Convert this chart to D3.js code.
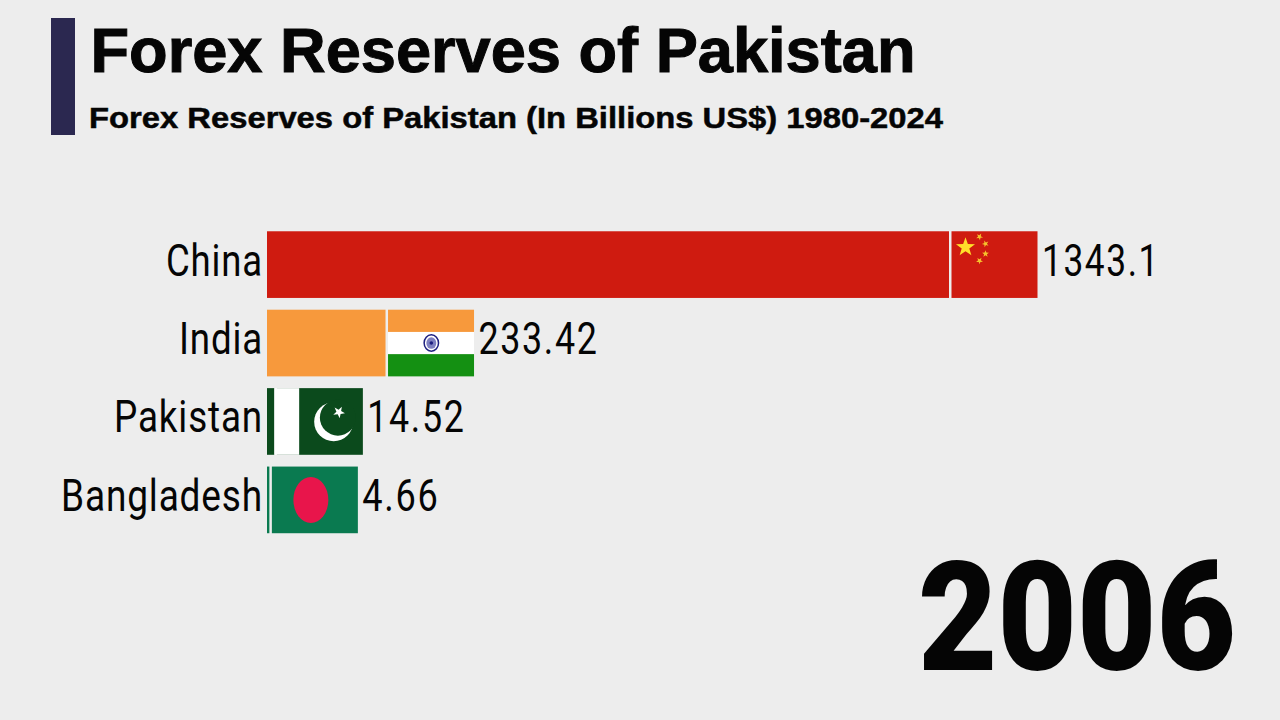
<!DOCTYPE html>
<html>
<head>
<meta charset="utf-8">
<script src="https://cdnjs.cloudflare.com/ajax/libs/d3/7.8.5/d3.min.js"></script>
<style>
html,body{margin:0;padding:0;background:#ededed;overflow:hidden}
svg{display:block}
text{fill:#050505}
</style>
</head>
<body>
<svg id="chart" width="1280" height="720"></svg>
<script>
const countries = ["China", "India", "Pakistan", "Bangladesh"];
const reserves = [1343.1, 233.42, 14.52, 4.66];
const valueLabels = ["1343.1", "233.42", "14.52", "4.66"];
const barColors = ["#cf1b10", "#f7993c", "#0b4a1c", "#0a7a50"];
const nameWidths = [97, 84, 149, 202];
const valueWidths = [118, 120, 98, 77];
const heading = "Forex Reserves of Pakistan";
const subheading = "Forex Reserves of Pakistan (In Billions US$) 1980-2024";
const yearLabel = "2006";

const svg = d3.select("#chart");
const left = 267, flagW = 86, flagGap = 2.5;

const x = d3.scaleLinear().domain([0, 1343.1]).range([0, 682]);
const y = d3.scaleBand().domain(countries).range([225, 539.5]).paddingInner(0.15).paddingOuter(0.08);

// Title block
svg.append("rect").attr("x", 51).attr("y", 18).attr("width", 24).attr("height", 117).attr("fill", "#2b2850");
svg.append("text").attr("x", 90.5).attr("y", 72)
  .attr("font-family", "Liberation Sans").attr("font-weight", 700).attr("font-size", 63)
  .attr("stroke", "#050505").attr("stroke-width", 1)
  .attr("textLength", 825).attr("lengthAdjust", "spacingAndGlyphs").text(heading);
svg.append("text").attr("x", 89).attr("y", 128)
  .attr("font-family", "Liberation Sans").attr("font-weight", 700).attr("font-size", 30)
  .attr("stroke", "#050505").attr("stroke-width", 0.5)
  .attr("textLength", 854).attr("lengthAdjust", "spacingAndGlyphs").text(subheading);

// Year counter
svg.append("text").attr("x", 918).attr("y", 670)
  .attr("font-family", "Roboto").attr("font-weight", 900).attr("font-size", 153)
  .attr("textLength", 318).attr("lengthAdjust", "spacingAndGlyphs").text(yearLabel);

const rows = svg.selectAll("g.row").data(countries).join("g").attr("class", "row")
  .attr("transform", d => `translate(0,${y(d)})`);

// Bars sized by value, with the flag attached at the end
rows.append("rect").attr("x", left).attr("y", 0)
  .attr("width", (d, i) => x(reserves[i])).attr("height", y.bandwidth())
  .attr("fill", (d, i) => barColors[i]);

const flags = rows.append("g")
  .attr("transform", (d, i) => `translate(${left + x(reserves[i]) + flagGap},0)`);

const star = (cx, cy, r, rot) => d3.range(10).map(k => {
  const a = -Math.PI / 2 + rot + k * Math.PI / 5, q = k % 2 ? r * 0.4 : r;
  return [cx + q * Math.cos(a), cy + q * Math.sin(a)].join(",");
}).join(" ");

flags.each(function (d) {
  const g = d3.select(this), h = y.bandwidth(), w = flagW;
  if (d === "China") {
    g.append("rect").attr("width", w).attr("height", h).attr("fill", "#cf1b10");
    g.append("polygon").attr("points", star(14, 16, 10, 0)).attr("fill", "#ffe02a");
    [[28, 5.5, .5], [34, 12.5, .9], [34, 22.5, 0], [28, 29.5, .6]].forEach(s =>
      g.append("polygon").attr("points", star(s[0], s[1], 3.6, s[2])).attr("fill", "#f5c32c"));
  } else if (d === "India") {
    g.append("rect").attr("width", w).attr("height", h / 3 + .5).attr("fill", "#f7993c");
    g.append("rect").attr("y", h / 3).attr("width", w).attr("height", h / 3).attr("fill", "#ffffff");
    g.append("rect").attr("y", 2 * h / 3).attr("width", w).attr("height", h / 3).attr("fill", "#149012");
    g.append("ellipse").attr("cx", 43.3).attr("cy", h / 2).attr("rx", 7.2).attr("ry", 8.2).attr("fill", "#fff")
      .attr("stroke", "#1d1f80").attr("stroke-width", 1.5);
    g.append("ellipse").attr("cx", 43.3).attr("cy", h / 2).attr("rx", 5).attr("ry", 5.8).attr("fill", "#7d7fc0");
    g.append("circle").attr("cx", 43.3).attr("cy", h / 2).attr("r", 1.8).attr("fill", "#1d1f80");
  } else if (d === "Pakistan") {
    g.append("rect").attr("width", w).attr("height", h).attr("fill", "#0b4a1c");
    g.append("rect").attr("x", -flagGap).attr("width", 22.3 + flagGap).attr("height", h).attr("fill", "#ffffff");
    g.append("circle").attr("cx", 56.8).attr("cy", 33.7).attr("r", 19.5).attr("fill", "#fff");
    g.append("circle").attr("cx", 61).attr("cy", 29.5).attr("r", 18).attr("fill", "#0b4a1c");
    g.append("polygon").attr("points", star(62, 24, 6.2, 0.5)).attr("fill", "#fff");
  } else {
    g.append("rect").attr("width", w).attr("height", h).attr("fill", "#0a7a50");
    g.append("ellipse").attr("cx", 39).attr("cy", h / 2).attr("rx", 17.5).attr("ry", 23).attr("fill", "#e8154b");
  }
});

// Country names, right-aligned against the axis
rows.append("text").attr("x", 263).attr("y", y.bandwidth() / 2 + 11).attr("text-anchor", "end")
  .attr("font-family", "Roboto").attr("font-size", 44).attr("letter-spacing", 1)
  .attr("textLength", (d, i) => nameWidths[i]).attr("lengthAdjust", "spacingAndGlyphs")
  .text(d => d);

// Value labels follow the flag
rows.append("text").attr("x", (d, i) => left + x(reserves[i]) + flagGap + flagW + 4.5)
  .attr("y", y.bandwidth() / 2 + 11)
  .attr("font-family", "Roboto").attr("font-size", 44).attr("letter-spacing", 2)
  .attr("textLength", (d, i) => valueWidths[i]).attr("lengthAdjust", "spacingAndGlyphs")
  .text((d, i) => valueLabels[i]);
</script>
</body>
</html>
